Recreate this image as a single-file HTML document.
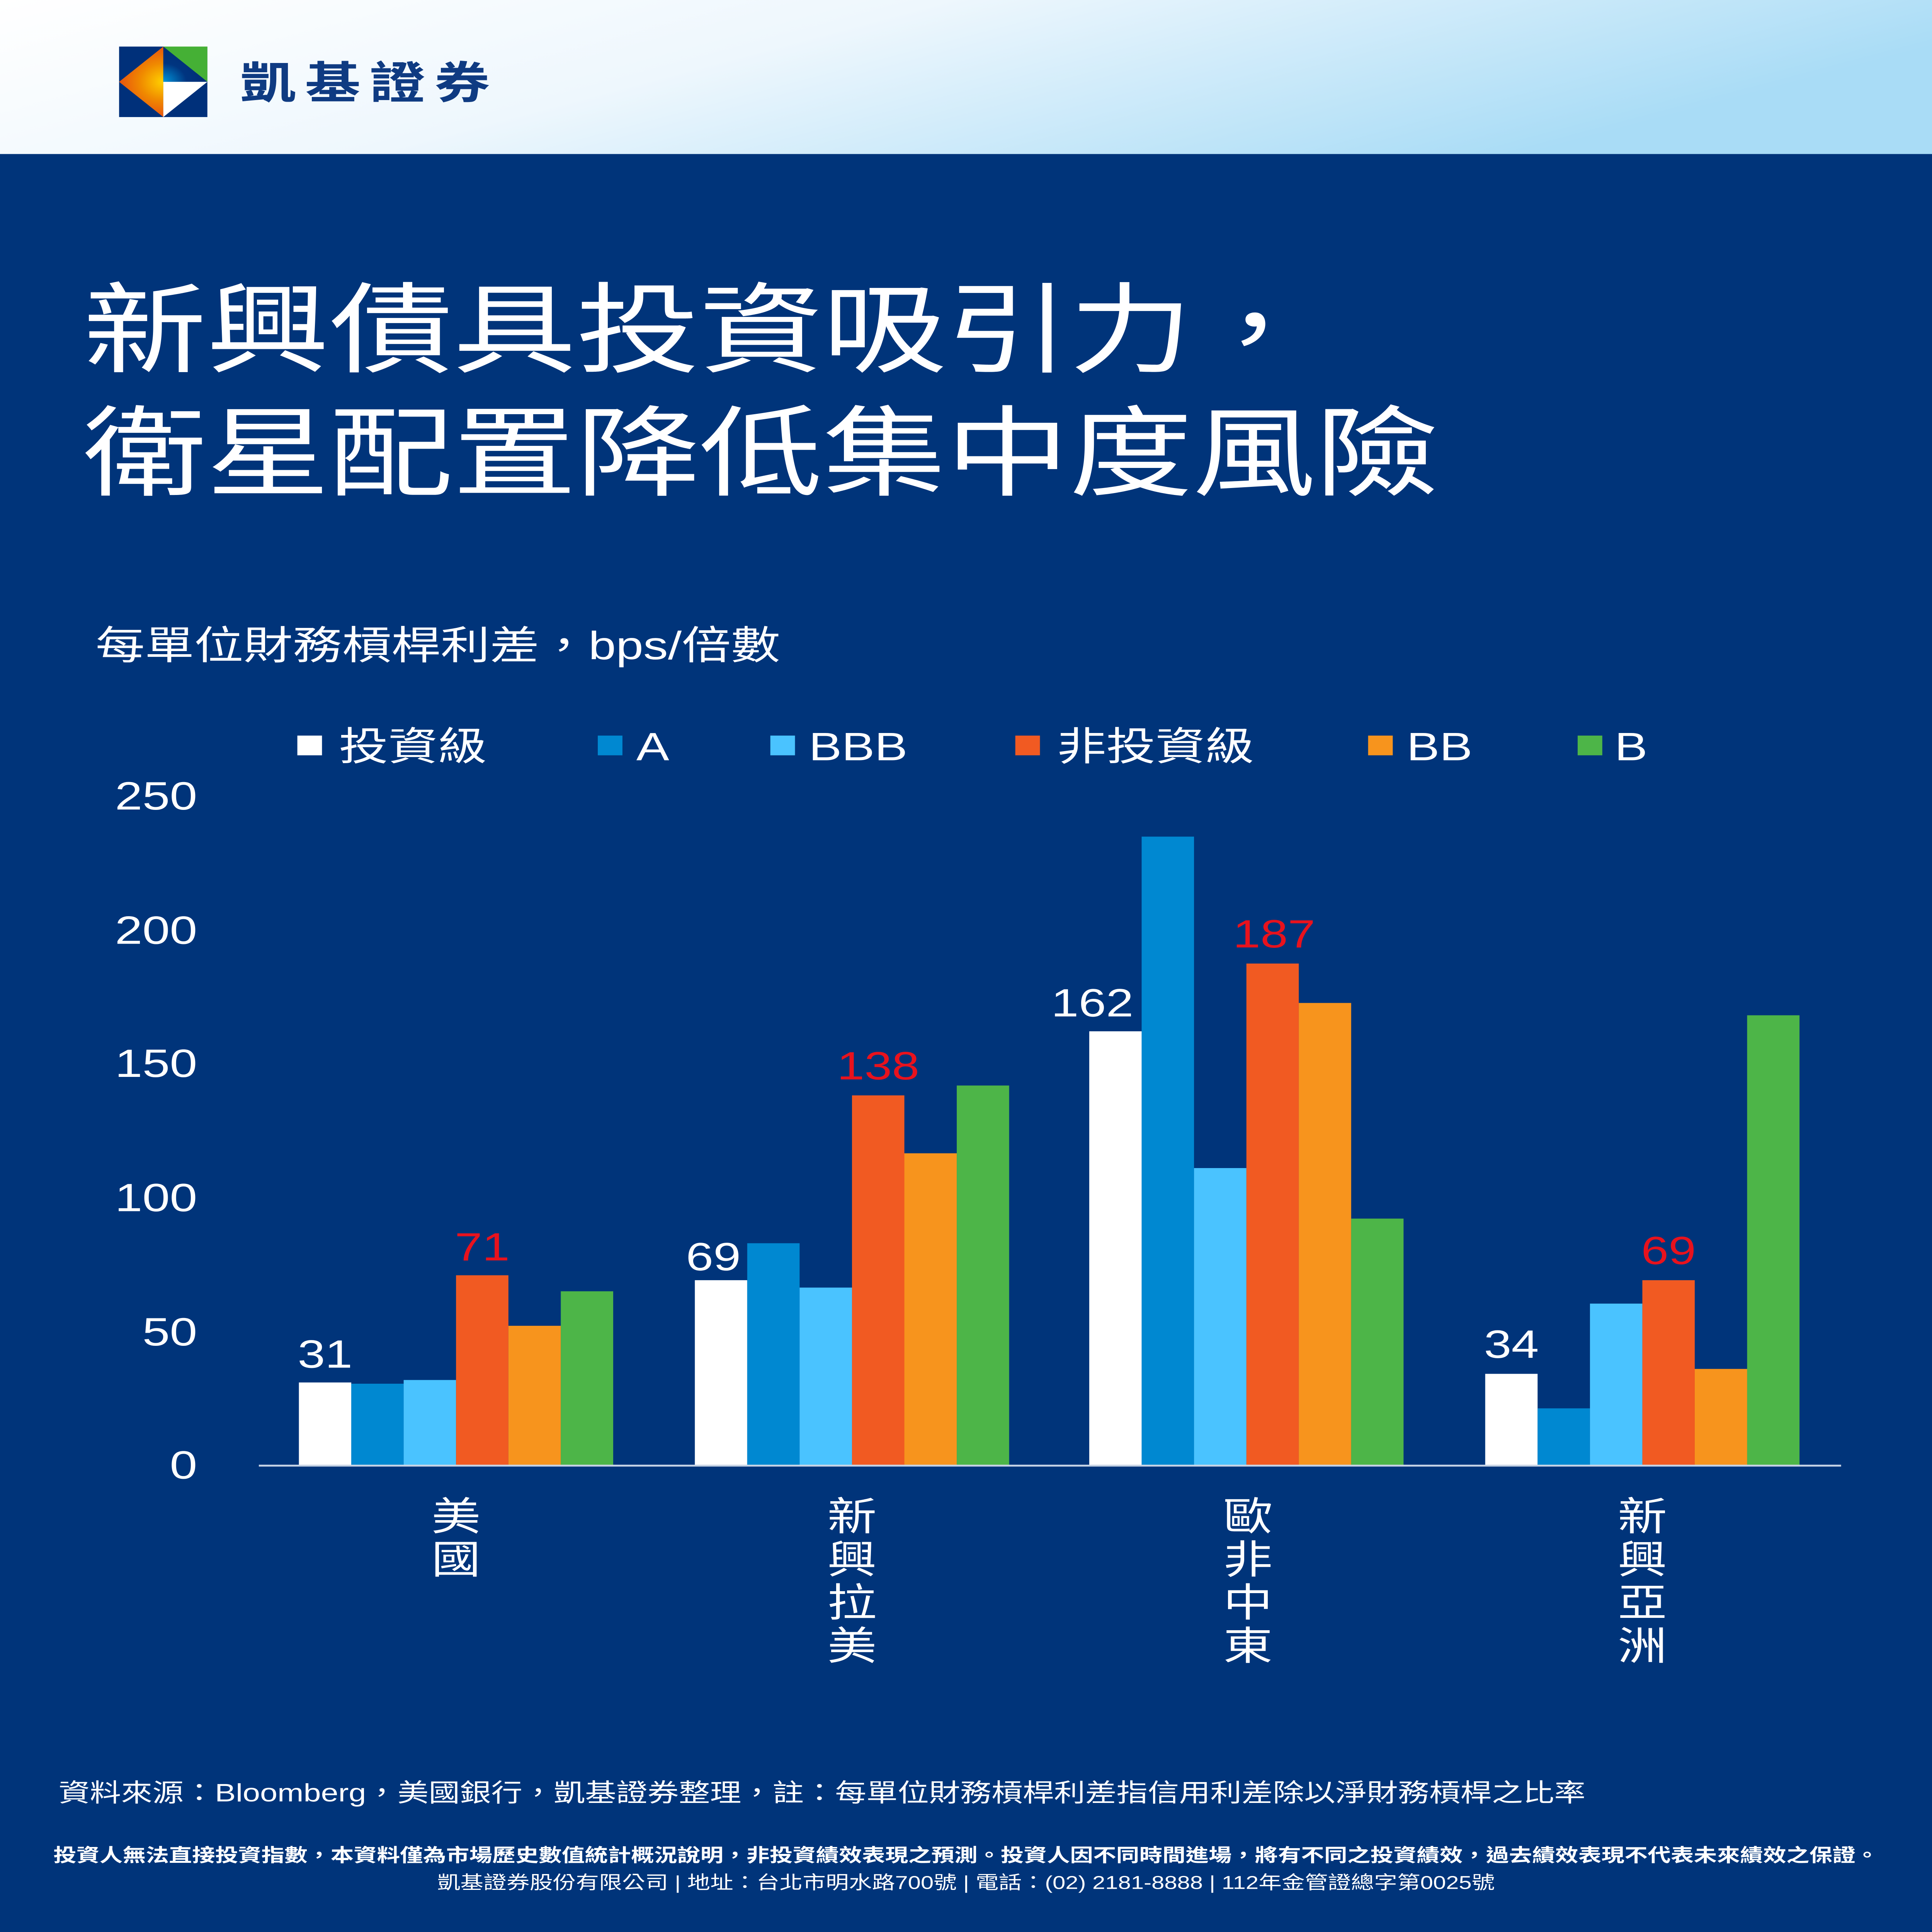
<!DOCTYPE html>
<html><head><meta charset="utf-8"><style>
html,body{margin:0;padding:0;width:100%;height:100%;overflow:hidden;background:#00347a}
svg{display:block;position:fixed;left:0;top:0;width:100vw;height:100vh}
</style></head>
<body>
<svg xmlns="http://www.w3.org/2000/svg" viewBox="0 0 1254 1568" preserveAspectRatio="none" font-family="'Liberation Sans','Noto Sans CJK TC',sans-serif">
<defs>
<linearGradient id="hd" x1="0" y1="0" x2="1" y2="0.3"><stop offset="0" stop-color="#ffffff"/><stop offset="0.45" stop-color="#eef7fd"/><stop offset="1" stop-color="#a9dcf6"/></linearGradient>
<radialGradient id="og" cx="106" cy="66.4" r="30" gradientUnits="userSpaceOnUse"><stop offset="0" stop-color="#ffd200"/><stop offset="0.5" stop-color="#f08a00"/><stop offset="1" stop-color="#e84e10"/></radialGradient>
<radialGradient id="bg2" cx="106" cy="66.4" r="25" gradientUnits="userSpaceOnUse"><stop offset="0" stop-color="#0096db"/><stop offset="0.6" stop-color="#003580"/><stop offset="1" stop-color="#002f78"/></radialGradient>
</defs>
<rect width="1254" height="1568" fill="#00347a"/>
<rect width="1254" height="125" fill="url(#hd)"/>
<rect x="77.3" y="37.8" width="57.3" height="57.2" fill="#00307a"/>
<polygon points="106,37.8 134.6,37.8 134.6,66.4" fill="#45b035"/>
<polygon points="106,37.8 77.3,66.4 106,95" fill="url(#og)"/>
<polygon points="106,37.8 134.6,66.4 106,66.4" fill="url(#bg2)"/>
<polygon points="106,66.4 134.6,66.4 106,95" fill="#fff"/>
<text x="156" y="80" font-size="36" font-weight="bold" fill="#0f3b82" letter-spacing="6">凱基證券</text>
<text x="54" y="296" font-size="80" fill="#fff">新興債具投資吸引力，</text>
<text x="54" y="396" font-size="80" fill="#fff">衛星配置降低集中度風險</text>
<text x="62" y="535" font-size="32" fill="#fff">每單位財務槓桿利差，bps/倍數</text>
<g font-size="32" fill="#fff">
<rect x="193" y="597" width="16" height="16" fill="#fff"/><text x="220" y="617">投資級</text>
<rect x="388" y="597" width="16" height="16" fill="#0088d1"/><text x="413" y="617">A</text>
<rect x="500" y="597" width="16" height="16" fill="#4ac3ff"/><text x="525" y="617">BBB</text>
<rect x="659" y="597" width="16" height="16" fill="#f15a22"/><text x="686" y="617">非投資級</text>
<rect x="888" y="597" width="16" height="16" fill="#f7941d"/><text x="913" y="617">BB</text>
<rect x="1024" y="597" width="16" height="16" fill="#4db548"/><text x="1048" y="617">B</text>
</g>
<g font-size="32" fill="#fff" text-anchor="end">
<text x="128" y="657">250</text><text x="128" y="766">200</text><text x="128" y="874">150</text>
<text x="128" y="983">100</text><text x="128" y="1092">50</text><text x="128" y="1200">0</text>
</g>
<g>
<rect x="194" y="1122" width="34" height="67" fill="#fff"/>
<rect x="228" y="1123" width="34" height="66" fill="#0088d1"/>
<rect x="262" y="1120" width="34" height="69" fill="#4ac3ff"/>
<rect x="296" y="1035" width="34" height="154" fill="#f15a22"/>
<rect x="330" y="1076" width="34" height="113" fill="#f7941d"/>
<rect x="364" y="1048" width="34" height="141" fill="#4db548"/>
<rect x="451" y="1039" width="34" height="150" fill="#fff"/>
<rect x="485" y="1009" width="34" height="180" fill="#0088d1"/>
<rect x="519" y="1045" width="34" height="144" fill="#4ac3ff"/>
<rect x="553" y="889" width="34" height="300" fill="#f15a22"/>
<rect x="587" y="936" width="34" height="253" fill="#f7941d"/>
<rect x="621" y="881" width="34" height="308" fill="#4db548"/>
<rect x="707" y="837" width="34" height="352" fill="#fff"/>
<rect x="741" y="679" width="34" height="510" fill="#0088d1"/>
<rect x="775" y="948" width="34" height="241" fill="#4ac3ff"/>
<rect x="809" y="782" width="34" height="407" fill="#f15a22"/>
<rect x="843" y="814" width="34" height="375" fill="#f7941d"/>
<rect x="877" y="989" width="34" height="200" fill="#4db548"/>
<rect x="964" y="1115" width="34" height="74" fill="#fff"/>
<rect x="998" y="1143" width="34" height="46" fill="#0088d1"/>
<rect x="1032" y="1058" width="34" height="131" fill="#4ac3ff"/>
<rect x="1066" y="1039" width="34" height="150" fill="#f15a22"/>
<rect x="1100" y="1111" width="34" height="78" fill="#f7941d"/>
<rect x="1134" y="824" width="34" height="365" fill="#4db548"/>
</g>
<line x1="168" y1="1189.5" x2="1195" y2="1189.5" stroke="#c8d4e6" stroke-width="1.5"/>
<g font-size="32" text-anchor="middle">
<text x="211" y="1110" fill="#fff">31</text><text x="313" y="1023" fill="#e8121d">71</text>
<text x="463" y="1031" fill="#fff">69</text><text x="570" y="876" fill="#e8121d">138</text>
<text x="709" y="825" fill="#fff">162</text><text x="827" y="769" fill="#e8121d">187</text>
<text x="981" y="1102" fill="#fff">34</text><text x="1083" y="1026" fill="#e8121d">69</text>
</g>
<g font-size="32" fill="#fff" text-anchor="middle">
<text x="296" y="1242">美</text><text x="296" y="1277">國</text>
<text x="553" y="1242">新</text><text x="553" y="1277">興</text><text x="553" y="1312">拉</text><text x="553" y="1347">美</text>
<text x="810" y="1242">歐</text><text x="810" y="1277">非</text><text x="810" y="1312">中</text><text x="810" y="1347">東</text>
<text x="1066" y="1242">新</text><text x="1066" y="1277">興</text><text x="1066" y="1312">亞</text><text x="1066" y="1347">洲</text>
</g>
<text x="38" y="1462" font-size="20.3" fill="#fff">資料來源：Bloomberg，美國銀行，凱基證券整理，註：每單位財務槓桿利差指信用利差除以淨財務槓桿之比率</text>
<text x="627" y="1511" font-size="15" font-weight="bold" fill="#fff" text-anchor="middle">投資人無法直接投資指數，本資料僅為市場歷史數值統計概況說明，非投資績效表現之預測。投資人因不同時間進場，將有不同之投資績效，過去績效表現不代表未來績效之保證。</text>
<text x="627" y="1533" font-size="15" fill="#fff" text-anchor="middle">凱基證券股份有限公司 | 地址：台北市明水路700號 | 電話：(02) 2181-8888 | 112年金管證總字第0025號</text>
</svg>
</body></html>
